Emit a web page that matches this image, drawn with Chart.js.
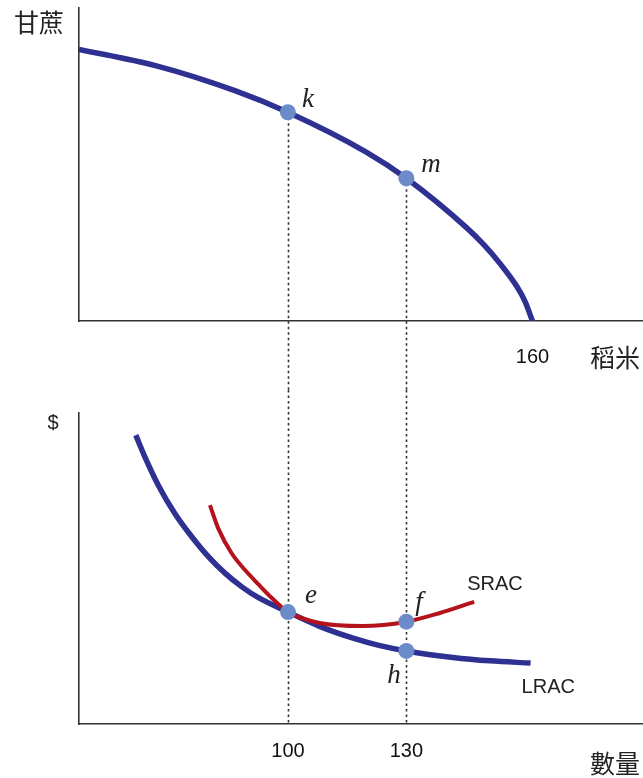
<!DOCTYPE html>
<html>
<head>
<meta charset="utf-8">
<script src="https://cdn.jsdelivr.net/npm/chart.js@4.4.1/dist/chart.umd.min.js"></script>
<style>
    html, body { margin: 0; padding: 0; background: #fff; overflow: hidden; }
    canvas { display: block; }
</style>
</head>
<body>
<canvas id="ppfChart" width="643" height="390"></canvas>
<canvas id="costChart" width="643" height="388"></canvas>
<script>
// Frontera de posibilidades de producción (arriba)
const riceQty = [0, 27, 55, 73.7, 101.5, 115.5, 137, 142.9, 148.5, 154.5, 157.4, 160];
const sugarQty = [86.8, 81.6, 73.6, 66.7, 53.9, 45.6, 29.6, 24.3, 18.4, 11.0, 6.2, 0];
const riceTicks = [160];
const ppfPointNames = ['k', 'm'];
const ppfPointX = [73.7, 115.5];
const ppfPointY = [66.7, 45.6];

// Costos medios (abajo)
const lracQty = [61.4, 63.7, 67.1, 71.3, 75.6, 79.8, 84, 88.3, 92.5, 100, 108, 116.5, 123.3, 130, 141.8, 151.2, 161.5];
const lracCost = [92.9, 85.9, 76.8, 67.7, 60.2, 53.8, 48.5, 44.1, 40.6, 36.0, 31.4, 27.6, 25.2, 23.5, 21.4, 20.3, 19.6];
const sracQty = [80.2, 82.3, 85.7, 89.1, 92.5, 95.9, 100, 108, 119, 130, 138.5, 147.2];
const sracCost = [70.4, 62.9, 54.9, 49.5, 44.9, 40.5, 36.0, 32.5, 31.5, 32.9, 35.7, 39.3];
const qtyTicks = [100, 130];
const costPointNames = ['e', 'f', 'h'];
const costPointX = [100, 130, 130];
const costPointY = [36.0, 32.9, 23.5];

const navy = '#2e3192';
const red = '#b5121b';
const dotColor = '#6b8cc9';
const axisColor = '#333';
const tickFont = { family: '"Liberation Sans", Arial, sans-serif', size: 20 };
const cjkFont = '25px "Noto Sans CJK TC", sans-serif';
const italicFont = 'italic 27px "Liberation Serif", serif';
const sansFont = '20px "Liberation Sans", Arial, sans-serif';

function toXY(xs, ys) {
    return xs.map((x, i) => ({ x: x, y: ys[i] }));
}

function drawText(ctx, text, x, y, font, align, baseline) {
    ctx.save();
    ctx.font = font;
    ctx.fillStyle = '#222';
    ctx.textAlign = align || 'left';
    ctx.textBaseline = baseline || 'alphabetic';
    ctx.fillText(text, x, y);
    ctx.restore();
}

// lineas punteadas y textos
const annotPlugin = {
    id: 'annot',
    beforeDatasetsDraw(chart, args, opts) {
        const ctx = chart.ctx;
        const xs = chart.scales.x, ys = chart.scales.y;
        ctx.save();
        ctx.strokeStyle = axisColor;
        ctx.lineWidth = 1.6;
        ctx.setLineDash([2.5, 3]);
        opts.guides.forEach(g => {
            const px = Math.round(xs.getPixelForValue(g.x)) + 0.5;
            const y1 = g.y === null ? 0 : ys.getPixelForValue(g.y);
            const y2 = g.toEdge ? chart.height : chart.chartArea.bottom;
            ctx.beginPath();
            ctx.moveTo(px, y1);
            ctx.lineTo(px, y2);
            ctx.stroke();
        });
        ctx.restore();
    },
    afterDatasetsDraw(chart, args, opts) {
        const ctx = chart.ctx;
        const xs = chart.scales.x, ys = chart.scales.y;
        const area = chart.chartArea;
        opts.labels.forEach(l => {
            const px = xs.getPixelForValue(l.x) + l.dx;
            const py = ys.getPixelForValue(l.y) + l.dy;
            drawText(ctx, l.text, px, py, l.font, 'left', 'alphabetic');
        });
        opts.titles.forEach(t => {
            const px = t.fromRight ? area.right + t.dx : area.left + t.dx;
            const py = t.fromBottom ? area.bottom + t.dy : area.top + t.dy;
            drawText(ctx, t.text, px, py, t.font, t.align, 'middle');
        });
    }
};

function baseScales(xMin, xMax, xTicks, yMax, xHeight, tickPad) {
    return {
        x: {
            type: 'linear',
            min: xMin,
            max: xMax,
            grid: { display: false, drawTicks: false },
            border: { display: true, color: axisColor, width: 1.6 },
            ticks: { font: tickFont, color: '#111', padding: tickPad },
            afterBuildTicks: scale => { scale.ticks = xTicks.map(v => ({ value: v })); },
            afterFit: scale => {
                scale.height = xHeight;
                scale.paddingLeft = 0;
                scale.paddingRight = 0;
            }
        },
        y: {
            type: 'linear',
            min: 0,
            max: yMax,
            grid: { display: false, drawTicks: false },
            border: { display: true, color: axisColor, width: 1.6 },
            ticks: { display: false },
            afterFit: scale => {
                scale.width = 79;
                scale.paddingTop = 0;
                scale.paddingBottom = 0;
            }
        }
    };
}

const commonOpts = {
    responsive: false,
    animation: false,
    events: [],
    plugins: { legend: { display: false }, tooltip: { enabled: false } }
};

new Chart(document.getElementById('ppfChart').getContext('2d'), {
    type: 'line',
    data: {
        datasets: [
            {
                type: 'scatter',
                data: toXY(ppfPointX, ppfPointY),
                pointRadius: 8,
                pointBackgroundColor: dotColor,
                pointBorderWidth: 0,
                order: 0
            },
            {
                data: toXY(riceQty, sugarQty),
                borderColor: navy,
                borderWidth: 5.5,
                pointRadius: 0,
                cubicInterpolationMode: 'monotone',
                order: 1
            }
        ]
    },
    options: Object.assign({}, commonOpts, {
        layout: { autoPadding: false, padding: { top: 8, right: 0, left: 0, bottom: 0 } },
        scales: baseScales(0, 199, riceTicks, 100, 69, 24),
        plugins: Object.assign({}, commonOpts.plugins, {
            annot: {
                guides: ppfPointX.map((x, i) => ({ x: x, y: ppfPointY[i], toEdge: true })),
                labels: [
                    { text: ppfPointNames[0], x: ppfPointX[0], y: ppfPointY[0], dx: 14, dy: -5, font: italicFont },
                    { text: ppfPointNames[1], x: ppfPointX[1], y: ppfPointY[1], dx: 15, dy: -6, font: italicFont }
                ],
                titles: [
                    { text: '甘蔗', dx: -65, dy: 14, align: 'left', font: cjkFont },
                    { text: '稻米', fromRight: true, fromBottom: true, dx: -3, dy: 36, align: 'right', font: cjkFont }
                ]
            }
        })
    }),
    plugins: [annotPlugin]
});

new Chart(document.getElementById('costChart').getContext('2d'), {
    type: 'line',
    data: {
        datasets: [
            {
                type: 'scatter',
                data: toXY(costPointX, costPointY),
                pointRadius: 8,
                pointBackgroundColor: dotColor,
                pointBorderWidth: 0,
                order: 0
            },
            {
                data: toXY(sracQty, sracCost),
                borderColor: red,
                borderWidth: 4,
                pointRadius: 0,
                cubicInterpolationMode: 'monotone',
                order: 1
            },
            {
                data: toXY(lracQty, lracCost),
                borderColor: navy,
                borderWidth: 5.5,
                pointRadius: 0,
                cubicInterpolationMode: 'monotone',
                order: 2
            }
        ]
    },
    options: Object.assign({}, commonOpts, {
        layout: { autoPadding: false, padding: { top: 23, right: 0, left: 0, bottom: 0 } },
        scales: baseScales(47, 190, qtyTicks, 100, 54, 15),
        plugins: Object.assign({}, commonOpts.plugins, {
            annot: {
                guides: qtyTicks.map(x => ({ x: x, y: null, toEdge: false })),
                labels: [
                    { text: costPointNames[0], x: costPointX[0], y: costPointY[0], dx: 17, dy: -9, font: italicFont },
                    { text: costPointNames[1], x: costPointX[1], y: costPointY[1], dx: 9, dy: -12, font: italicFont },
                    { text: costPointNames[2], x: costPointX[2], y: costPointY[2], dx: -19, dy: 32, font: italicFont },
                    { text: 'SRAC', x: sracQty[sracQty.length - 1], y: sracCost[sracCost.length - 1], dx: -7, dy: -12, font: sansFont },
                    { text: 'LRAC', x: lracQty[lracQty.length - 1], y: lracCost[lracCost.length - 1], dx: -9, dy: 30, font: sansFont }
                ],
                titles: [
                    { text: '$', dx: -26, dy: 10, align: 'center', font: sansFont },
                    { text: '數量', fromRight: true, fromBottom: true, dx: -3, dy: 39, align: 'right', font: cjkFont }
                ]
            }
        })
    }),
    plugins: [annotPlugin]
});
</script>
</body>
</html>
